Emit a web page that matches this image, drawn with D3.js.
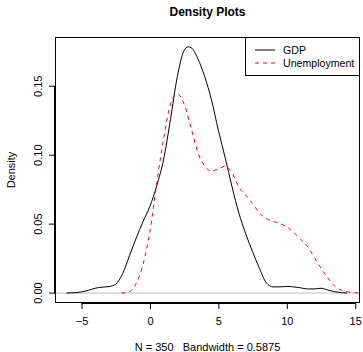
<!DOCTYPE html>
<html><head><meta charset="utf-8">
<script src="https://cdn.jsdelivr.net/npm/d3@7"></script>
<style>html,body{margin:0;padding:0;background:#fff;} svg{display:block;font-family:"Liberation Sans",Arial,Helvetica,sans-serif;} text{white-space:pre;}</style>
</head><body>
<div id="chart"></div>
<script>
const title = "Density Plots";
const xLabel = "N = 350   Bandwidth = 0.5875";
const yLabel = "Density";
const seriesNames = ["GDP", "Unemployment"];
const xTicks = [-5, 0, 5, 10, 15];
const yTicks = [0, 0.05, 0.10, 0.15];

const gdpX = [-6.1,-5.5,-5,-4.5,-4,-3.5,-3,-2.5,-2,-1.5,-1,-0.5,0,0.5,1,1.5,2,2.5,2.8,3,3.5,4,4.5,5,5.5,6,6.5,7,7.5,8,8.5,9,9.5,10,10.5,11,11.5,12,12.5,13,13.5,14,14.4];
const gdpY = [0,0.0003,0.0008,0.002,0.0035,0.0043,0.0047,0.0065,0.014,0.027,0.040,0.052,0.063,0.078,0.097,0.126,0.157,0.176,0.1785,0.178,0.170,0.157,0.140,0.118,0.098,0.077,0.058,0.043,0.030,0.018,0.0075,0.0045,0.0045,0.0048,0.0045,0.0038,0.003,0.003,0.0035,0.0022,0.001,0.0003,0];

const unempX = [-2.1,-1.5,-1,-0.5,0,0.5,1,1.5,2,2.5,3,3.5,4,4.5,5,5.5,6,6.5,7,7.5,8,8.5,9,9.5,10,10.5,11,11.5,12,12.5,13,13.5,14,14.5,15,15.5];
const unempY = [0,0.001,0.007,0.021,0.045,0.080,0.112,0.137,0.1445,0.137,0.120,0.102,0.092,0.0885,0.090,0.092,0.087,0.077,0.071,0.065,0.058,0.054,0.052,0.0505,0.048,0.044,0.039,0.034,0.026,0.018,0.011,0.005,0.002,0.0008,0.0002,0];

const W = 363, H = 352;
const L = 55, R = 360, T = 37, B = 303;

const x = d3.scaleLinear().domain([-6.94, 15.35]).range([L, R]);
const y = d3.scaleLinear().domain([-0.0072, 0.1857]).range([B, T]);

const svg = d3.select("#chart").append("svg").attr("width", W).attr("height", H);

svg.append("clipPath").attr("id","clip").append("rect")
  .attr("x", L).attr("y", T).attr("width", R-L).attr("height", B-T);

// zero line
svg.append("line").attr("x1", L).attr("x2", R).attr("y1", y(0)).attr("y2", y(0))
  .attr("stroke", "#bebebe").attr("stroke-width", 1);

const line = d3.line().x(d => x(d[0])).y(d => y(d[1])).curve(d3.curveMonotoneX);
const gdp = gdpX.map((v,i) => [v, gdpY[i]]);
const un = unempX.map((v,i) => [v, unempY[i]]);

const g = svg.append("g").attr("clip-path","url(#clip)");
g.append("path").datum(gdp).attr("d", line).attr("fill","none").attr("stroke","#000").attr("stroke-width",1);
g.append("path").datum(un).attr("d", line).attr("fill","none").attr("stroke","#ff0000").attr("stroke-width",1).attr("stroke-dasharray","4,4");

// box
svg.append("rect").attr("x", L+0.5).attr("y", T+0.5).attr("width", R-L-1).attr("height", B-T-1)
  .attr("fill","none").attr("stroke","#000").attr("stroke-width",1);

// x axis
const xa = svg.append("g").attr("transform", `translate(0,${B})`)
  .call(d3.axisBottom(x).tickValues(xTicks).tickSize(6).tickPadding(8).tickFormat(d => d < 0 ? "\u2212" + Math.abs(d) : d));
xa.select(".domain").attr("d", `M${x(-5)},0.5H${x(15)}`).attr("stroke","#000");
xa.selectAll("text").attr("font-size", 11).attr("fill","#000").attr("font-family","Liberation Sans, Arial, sans-serif");

// y axis
const ya = svg.append("g").attr("transform", `translate(${L},0)`)
  .call(d3.axisLeft(y).tickValues(yTicks).tickSize(6).tickFormat(d3.format(".2f")));
ya.select(".domain").attr("d", `M-0.5,${y(0)}V${y(0.15)}`).attr("stroke","#000");
ya.selectAll("text").attr("font-size", 11).attr("fill","#000").attr("font-family","Liberation Sans, Arial, sans-serif")
  .attr("text-anchor","middle").attr("dy", 0).attr("x", 0)
  .attr("transform", function(d){ return `translate(-13,${y(d)}) rotate(-90)`; })
  .attr("y", 0);
ya.selectAll(".tick").attr("transform", null);
ya.selectAll(".tick line").attr("transform", d => `translate(0,${y(d)})`);

// titles
svg.append("text").attr("x", (L+R)/2).attr("y", 16).attr("text-anchor","middle")
  .attr("font-size", 12).attr("font-weight","bold").text(title);
svg.append("text").attr("x", (L+R)/2).attr("y", 351).attr("text-anchor","middle")
  .attr("font-size", 11).attr("xml:space","preserve").style("white-space","pre").text(xLabel);
svg.append("text").attr("transform", `translate(15,${(T+B)/2}) rotate(-90)`).attr("text-anchor","middle")
  .attr("font-size", 11).text(yLabel);

// legend
const lg = svg.append("g");
lg.append("rect").attr("x", 245.5).attr("y", T+0.5).attr("width", R-245-1).attr("height", 38)
  .attr("fill","#fff").attr("stroke","#000");
const items = [{name: seriesNames[0], color:"#000", dash:null}, {name: seriesNames[1], color:"#ff0000", dash:"4,4"}];
items.forEach((it,i) => {
  const yy = 50 + i*13;
  lg.append("line").attr("x1",255).attr("x2",275).attr("y1",yy).attr("y2",yy)
    .attr("stroke", it.color).attr("stroke-dasharray", it.dash);
  lg.append("text").attr("x",283).attr("y",yy+4).attr("font-size",10.6).text(it.name);
});
</script>
</body></html>
